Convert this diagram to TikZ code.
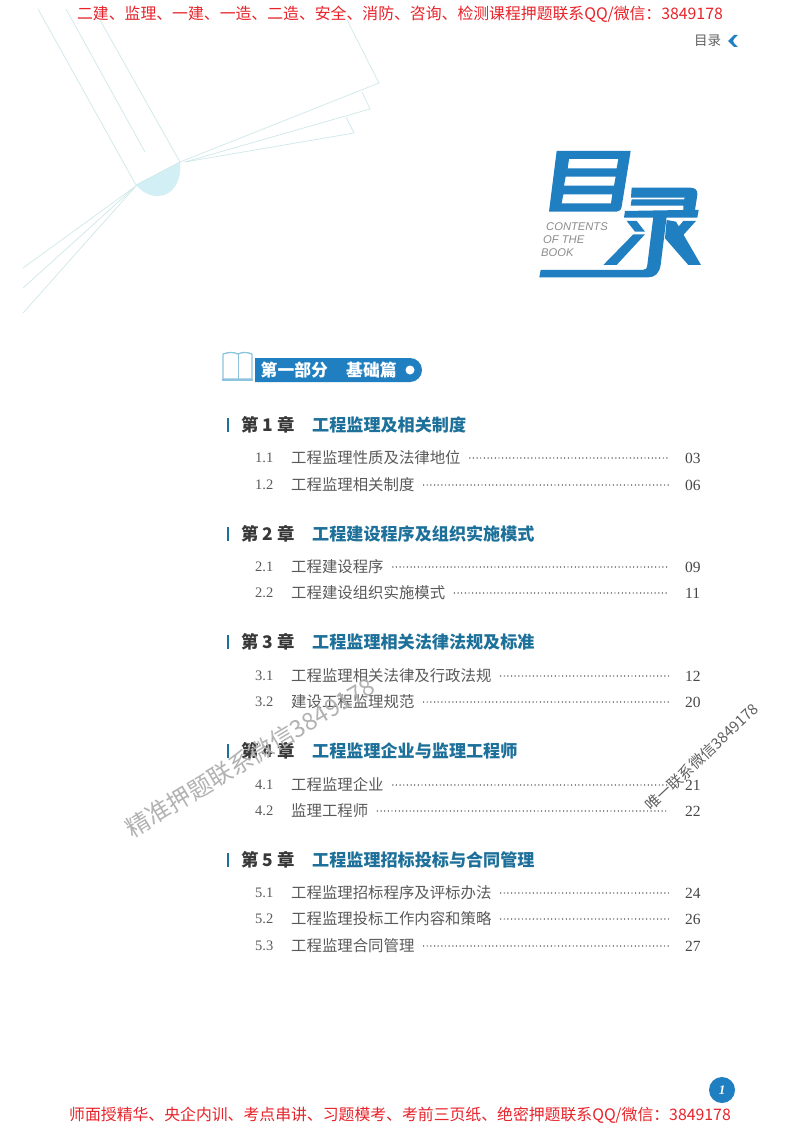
\documentclass[tikz,border=0pt]{standalone}
\usepackage{fontspec}
\usepackage{tikz}
\setmainfont{Noto Sans CJK SC}
\newfontfamily\numfont{Liberation Serif}
\newfontfamily\latinfont{Liberation Sans}
\definecolor{logoblue}{HTML}{1F7FC1}
\definecolor{titleblue}{HTML}{1C7099}
\definecolor{paleline}{HTML}{CFE8EA}
\definecolor{palefill}{HTML}{D2EFF5}
\definecolor{iconblue}{HTML}{8CC4DE}
\definecolor{inkgray}{HTML}{5A5A5A}
\definecolor{adred}{HTML}{E8232A}
\tikzset{
  adline/.style={anchor=center,text=adred,font=\fontsize{15.85}{15.85}\selectfont,inner sep=0pt},
  partlabel/.style={anchor=west,text=white,font=\fontsize{16.8}{16.8}\selectfont\bfseries,inner sep=0pt},
  chapternum/.style={anchor=west,text=black!78,font=\fontsize{17.4}{17.4}\selectfont\bfseries,inner sep=0pt},
  chaptertitle/.style={anchor=west,text=titleblue,font=\fontsize{17.1}{17.1}\selectfont\bfseries,inner sep=0pt},
  secnum/.style={anchor=west,text=inkgray,font=\fontsize{14.5}{14.5}\selectfont\numfont,inner sep=0pt},
  sectitle/.style={anchor=west,text=inkgray,font=\fontsize{15.4}{15.4}\selectfont,inner sep=0pt},
  secpage/.style={anchor=west,text=black!72,font=\fontsize{15.5}{15.5}\selectfont\numfont,inner sep=0pt},
  leader/.style={draw=black!78,line width=1.45pt,line cap=round,dash pattern=on 0pt off 3.65pt,shorten <=9pt,shorten >=16pt},
  chapterbar/.style={draw=titleblue,line width=1.6pt},
  pageline/.style={draw=paleline,line width=0.7pt},
  bookline/.style={draw=iconblue,line width=1.3pt,fill=white,line join=round},
  stamp/.style={text=black!30,inner sep=0pt}
}
\begin{document}
\begin{tikzpicture}[x=1pt,y=-1pt]
  \useasboundingbox[fill=white] (0,0) rectangle (800,1132);
  % open book in the corner
  \fill[palefill] (136,185) .. controls (143,193) and (150,196) .. (158,196) .. controls (172,196) and (182,182) .. (180,162) -- cycle;
  \draw[pageline] (38,9) -- (136,185) -- (180,162) -- (379,83) -- (347,20);
  \draw[pageline] (100,20) -- (180,162);
  \draw[pageline] (66,9) -- (145,152);
  \draw[pageline] (362,92) -- (370,109) -- (185,162);
  \draw[pageline] (346,117) -- (354,133) -- (185,162);
  \draw[pageline] (136,186) -- (23,268);
  \draw[pageline] (136,186) -- (23,288);
  \draw[pageline] (136,186) -- (23,313);
  % ads, top and bottom
  \node[adline] (adtop) at (400,14) {二建、监理、一建、一造、二造、安全、消防、咨询、检测课程押题联系QQ/微信：3849178};
  \node[adline] (adbottom) at (400,1115) {师面授精华、央企内训、考点串讲、习题模考、考前三页纸、绝密押题联系QQ/微信：3849178};
  % running head
  \node[anchor=west,text=black!62,font=\fontsize{13.5}{13.5}\selectfont,inner sep=0pt] (runhead) at (694,41) {目录};
  \fill[logoblue] (728,41) -- (734,35) -- (738,35) .. controls (735,38) and (733,39) .. (733,41) .. controls (733,43) and (735,44) .. (738,47) -- (734,47) -- cycle;
  % big title mark
  \begin{scope}[shift={(520,20)},scale=0.3333]
    \fill[logoblue,even odd rule] (110,393) -- (332,393) -- (305,560) .. controls (303,570) and (298,575) .. (290,575) -- (87,575) -- cycle
      (147,417) -- (295,417) -- (290,445) -- (143,445) -- cycle
      (137,470) -- (287,470) -- (282,497) -- (132,497) -- cycle
      (130,523) -- (277,523) -- (273,550) -- (125,550) -- cycle;
    \fill[logoblue] (335,503) -- (510,503) .. controls (525,503) and (534,510) .. (532,525) -- (525,570) -- (536,570) -- (532,593) -- (312,593) -- (315,573) -- (490,570) -- (490,557) -- (332,557) -- (335,538) -- (492,538) -- (495,533) -- (333,533) -- cycle;
    \fill[logoblue] (400,590) -- (440,590) -- (422,735) .. controls (418,760) and (405,772) .. (385,772) -- (58,772) -- (62,750) -- (368,750) .. controls (377,750) and (381,745) .. (382,735) -- cycle;
    \fill[logoblue] (320,603) -- (350,603) -- (375,635) -- (345,635) -- cycle;
    \fill[logoblue] (340,643) -- (375,643) -- (290,735) -- (250,735) -- cycle;
    \fill[logoblue] (490,603) -- (528,603) -- (490,645) -- (473,623) -- cycle;
    \fill[logoblue] (440,600) -- (468,605) -- (543,735) -- (505,735) -- (435,655) -- cycle;
  \end{scope}
  \node[anchor=west,text=black!45,font=\fontsize{11.2}{11.2}\selectfont\latinfont\itshape,inner sep=0pt] (markone) at (546,227) {CONTENTS};
  \node[anchor=west,text=black!45,font=\fontsize{11.2}{11.2}\selectfont\latinfont\itshape,inner sep=0pt] (marktwo) at (543,240) {OF THE};
  \node[anchor=west,text=black!45,font=\fontsize{11.2}{11.2}\selectfont\latinfont\itshape,inner sep=0pt] (markthree) at (541,253) {BOOK};
  % part banner
  \fill[logoblue] (255,358) [rounded corners=12pt] -- (422,358) -- (422,382) [sharp corners] -- (255,382) -- cycle;
  \draw[bookline] (223,354) .. controls (229,352) and (234,352) .. (238,354) .. controls (242,352) and (247,352) .. (252,354) -- (252,379) -- (223,379) -- cycle;
  \draw[draw=iconblue,line width=0.8pt] (238,354) -- (238,379);
  \fill[iconblue] (222,379) rectangle (253,381);
  \fill[white] (410,370) circle (4.5);
  \node[partlabel] (partone) at (260.5,370) {第一部分};
  \node[partlabel] (partname) at (346,370) {基础篇};
  % chapter 1
  \draw[chapterbar] (228,418) -- (228,432);
  \node[chapternum] (chone) at (241,425) {第 1 章}; \node[chaptertitle] (chonetitle) at (312,425) {工程监理及相关制度};
  \node[secnum] (seconeone) at (255,458) {1.1}; \node[sectitle] (seconeonetext) at (291,458) {工程监理性质及法律地位}; \node[secpage] (seconeonepage) at (685,458) {03};
  \draw[leader] (seconeonetext.east) -- (seconeonepage.west);
  \node[secnum] (seconetwo) at (255,485) {1.2}; \node[sectitle] (seconetwotext) at (291,485) {工程监理相关制度}; \node[secpage] (seconetwopage) at (685,485) {06};
  \draw[leader] (seconetwotext.east) -- (seconetwopage.west);
  % chapter 2
  \draw[chapterbar] (228,527) -- (228,541);
  \node[chapternum] (chtwo) at (241,534) {第 2 章}; \node[chaptertitle] (chtwotitle) at (312,534) {工程建设程序及组织实施模式};
  \node[secnum] (sectwoone) at (255,567) {2.1}; \node[sectitle] (sectwoonetext) at (291,567) {工程建设程序}; \node[secpage] (sectwoonepage) at (685,567) {09};
  \draw[leader] (sectwoonetext.east) -- (sectwoonepage.west);
  \node[secnum] (sectwotwo) at (255,593) {2.2}; \node[sectitle] (sectwotwotext) at (291,593) {工程建设组织实施模式}; \node[secpage] (sectwotwopage) at (685,593) {11};
  \draw[leader] (sectwotwotext.east) -- (sectwotwopage.west);
  % chapter 3
  \draw[chapterbar] (228,635) -- (228,649);
  \node[chapternum] (chthree) at (241,642) {第 3 章}; \node[chaptertitle] (chthreetitle) at (312,642) {工程监理相关法律法规及标准};
  \node[secnum] (secthreeone) at (255,676) {3.1}; \node[sectitle] (secthreeonetext) at (291,676) {工程监理相关法律及行政法规}; \node[secpage] (secthreeonepage) at (685,676) {12};
  \draw[leader] (secthreeonetext.east) -- (secthreeonepage.west);
  \node[secnum] (secthreetwo) at (255,702) {3.2}; \node[sectitle] (secthreetwotext) at (291,702) {建设工程监理规范}; \node[secpage] (secthreetwopage) at (685,702) {20};
  \draw[leader] (secthreetwotext.east) -- (secthreetwopage.west);
  % chapter 4
  \draw[chapterbar] (228,744) -- (228,758);
  \node[chapternum] (chfour) at (241,751) {第 4 章}; \node[chaptertitle] (chfourtitle) at (312,751) {工程监理企业与监理工程师};
  \node[secnum] (secfourone) at (255,785) {4.1}; \node[sectitle] (secfouronetext) at (291,785) {工程监理企业}; \node[secpage] (secfouronepage) at (685,785) {21};
  \draw[leader] (secfouronetext.east) -- (secfouronepage.west);
  \node[secnum] (secfourtwo) at (255,811) {4.2}; \node[sectitle] (secfourtwotext) at (291,811) {监理工程师}; \node[secpage] (secfourtwopage) at (685,811) {22};
  \draw[leader] (secfourtwotext.east) -- (secfourtwopage.west);
  % chapter 5
  \draw[chapterbar] (228,853) -- (228,867);
  \node[chapternum] (chfive) at (241,860) {第 5 章}; \node[chaptertitle] (chfivetitle) at (312,860) {工程监理招标投标与合同管理};
  \node[secnum] (secfiveone) at (255,893) {5.1}; \node[sectitle] (secfiveonetext) at (291,893) {工程监理招标程序及评标办法}; \node[secpage] (secfiveonepage) at (685,893) {24};
  \draw[leader] (secfiveonetext.east) -- (secfiveonepage.west);
  \node[secnum] (secfivetwo) at (255,919) {5.2}; \node[sectitle] (secfivetwotext) at (291,919) {工程监理投标工作内容和策略}; \node[secpage] (secfivetwopage) at (685,919) {26};
  \draw[leader] (secfivetwotext.east) -- (secfivetwopage.west);
  \node[secnum] (secfivethree) at (255,946) {5.3}; \node[sectitle] (secfivethreetext) at (291,946) {工程监理合同管理}; \node[secpage] (secfivethreepage) at (685,946) {27};
  \draw[leader] (secfivethreetext.east) -- (secfivethreepage.west);
  % watermarks
  \node[stamp,font=\fontsize{24}{24}\selectfont,rotate=31] (stampleft) at (250,757) {精准押题联系微信3849178};
  \node[stamp,font=\fontsize{15}{15}\selectfont,rotate=43,text=black!62] (stampright) at (702,757) {唯一联系微信3849178};
  % page badge
  \node[circle,fill=logoblue,minimum size=26pt,inner sep=0pt,text=white,font=\fontsize{13}{13}\selectfont\numfont\itshape\bfseries] (badge) at (722,1090) {1};
\end{tikzpicture}
\end{document}
